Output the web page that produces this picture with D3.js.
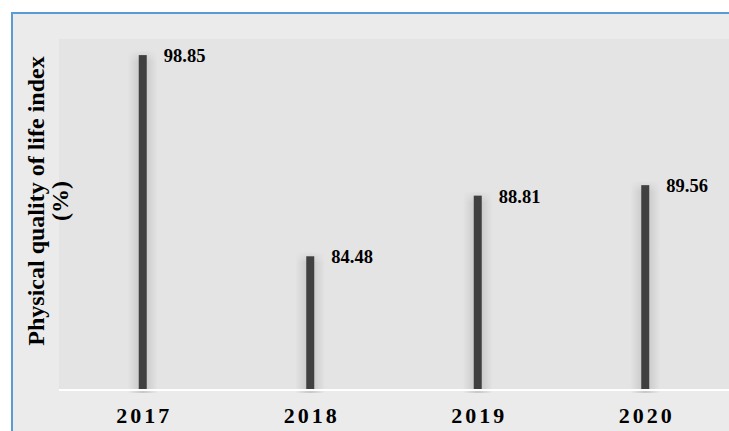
<!DOCTYPE html>
<html>
<head>
<meta charset="utf-8">
<script src="https://cdn.jsdelivr.net/npm/d3@7"></script>
<style>
  html, body { margin: 0; padding: 0; background: #ffffff; overflow: hidden; }
  svg { display: block; }
  text { font-family: "Liberation Serif", "Times New Roman", serif; font-weight: bold; fill: #000; }
</style>
</head>
<body>
<script>
const years = ["2017", "2018", "2019", "2020"];
const values = [98.85, 84.48, 88.81, 89.56];
const yDomain = [75, 100];
const yTitleLines = ["Physical quality of life index", "(%)"];

const W = 729, H = 431;
const plot = { left: 59, right: 729, top: 39, bottom: 389 };

const svg = d3.select("body").append("svg").attr("width", W).attr("height", H);

const defs = svg.append("defs");
const grad = defs.append("linearGradient").attr("id", "glowGrad")
  .attr("x1", "0%").attr("x2", "100%").attr("y1", "0%").attr("y2", "0%");
[[0, 0], [0.3, 0.6], [0.5, 0.9], [0.7, 0.6], [1, 0]].forEach(([o, a]) =>
  grad.append("stop").attr("offset", o).attr("stop-color", "#c4c4c4").attr("stop-opacity", a));
const gradV = defs.append("linearGradient").attr("id", "glowTop")
  .attr("x1", "0%").attr("x2", "0%").attr("y1", "0%").attr("y2", "100%");
[[0, 0], [1, 1]].forEach(([o, a]) =>
  gradV.append("stop").attr("offset", o).attr("stop-color", "#fff").attr("stop-opacity", a));
defs.append("mask").attr("id", "glowMask").attr("maskContentUnits", "objectBoundingBox")
  .append("rect").attr("x", 0).attr("y", 0).attr("width", 1).attr("height", 1).attr("fill", "#fff");

// outer chart area with blue border
svg.append("rect").attr("x", 12).attr("y", 13).attr("width", W + 20).attr("height", H + 20)
  .attr("fill", "#ebebeb").attr("stroke", "#5b9bd5").attr("stroke-width", 2);

// plot area
svg.append("rect").attr("x", plot.left).attr("y", plot.top)
  .attr("width", plot.right - plot.left).attr("height", plot.bottom - plot.top)
  .attr("fill", "#e4e4e4");

const x = d3.scaleBand().domain(years).range([plot.left, plot.right]).padding(0);
const y = d3.scaleLinear().domain(yDomain).range([plot.bottom, plot.top]);

const barW = 8;
const glowW = 30;
const data = years.map((yr, i) => ({ yr, v: values[i] }));

// soft glow behind bars (gradient based)
const gl = svg.append("g").selectAll("g").data(data).join("g");
gl.append("rect")
  .attr("x", d => x(d.yr) + x.bandwidth() / 2 - glowW / 2)
  .attr("y", d => y(d.v) - 4)
  .attr("width", glowW)
  .attr("height", d => y(yDomain[0]) - y(d.v) + 8)
  .attr("fill", "url(#glowGrad)");
// fade at top
gl.append("rect")
  .attr("x", d => x(d.yr) + x.bandwidth() / 2 - glowW / 2)
  .attr("y", d => y(d.v) - 5)
  .attr("width", glowW)
  .attr("height", 12)
  .attr("fill", "url(#glowTopFade)");
const gf = defs.append("linearGradient").attr("id", "glowTopFade")
  .attr("x1", "0%").attr("x2", "0%").attr("y1", "0%").attr("y2", "100%");
[[0, 1], [1, 0]].forEach(([o, a]) =>
  gf.append("stop").attr("offset", o).attr("stop-color", "#e4e4e4").attr("stop-opacity", a));

svg.append("g").selectAll("rect").data(data).join("rect")
  .attr("x", d => x(d.yr) + x.bandwidth() / 2 - barW / 2)
  .attr("y", d => y(d.v))
  .attr("width", barW)
  .attr("height", d => y(yDomain[0]) - y(d.v) + 1)
  .attr("fill", "#404040");

// baseline white line
svg.append("line").attr("x1", plot.left).attr("x2", plot.right)
  .attr("y1", plot.bottom + 1).attr("y2", plot.bottom + 1)
  .attr("stroke", "#ffffff").attr("stroke-width", 2);

// value labels
svg.append("g").selectAll("text").data(data).join("text")
  .attr("x", d => x(d.yr) + x.bandwidth() / 2 + 21)
  .attr("y", d => y(d.v) + 7)
  .attr("font-size", 18.5)
  .text(d => d.v.toFixed(2));

// x axis
const xAxis = svg.append("g").attr("transform", `translate(0,${plot.bottom})`)
  .call(d3.axisBottom(x).tickSize(0).tickPadding(0));
xAxis.select(".domain").remove();
xAxis.selectAll("text")
  .attr("y", 34).attr("dy", 0)
  .attr("font-size", 22)
  .attr("letter-spacing", 3)
  .attr("dx", 1.5)
  .style("font-family", "'Liberation Serif', serif").style("font-weight", "bold").attr("fill", "#000");

// y title
const cy = 201;
const yt = svg.append("text")
  .attr("transform", `translate(44,${cy}) rotate(-90)`)
  .attr("text-anchor", "middle")
  .attr("font-size", 24);
yt.append("tspan").attr("x", 0).attr("y", 0).text(yTitleLines[0]);
yt.append("tspan").attr("x", 0).attr("y", 24).text(yTitleLines[1]);
</script>
</body>
</html>
